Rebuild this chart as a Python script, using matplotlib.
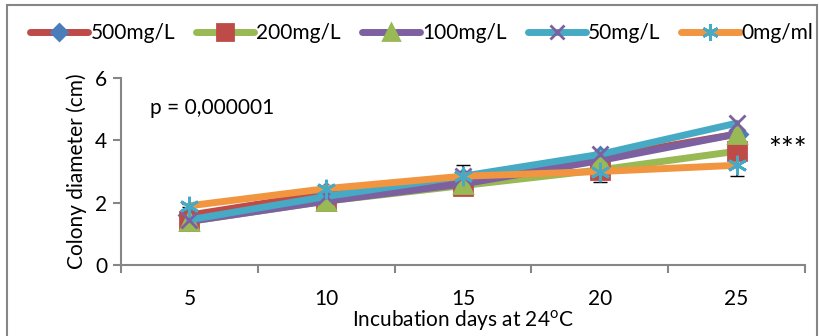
import matplotlib
matplotlib.use("Agg")
import matplotlib.pyplot as plt
from matplotlib.patches import Rectangle

days = ["5", "10", "15", "20", "25"]
series_names = ["500mg/L", "200mg/L", "100mg/L", "50mg/L", "0mg/ml"]
v500 = [1.6, 2.3, 2.75, 3.45, 4.2]
v200 = [1.4, 2.05, 2.55, 3.05, 3.65]
v100 = [1.4, 2.05, 2.6, 3.35, 4.2]
v50 = [1.45, 2.2, 2.85, 3.55, 4.55]
v0 = [1.9, 2.45, 2.85, 3.0, 3.2]
err0 = [0.05, 0.05, 0.35, 0.35, 0.35]
err500 = [0.05, 0.05, 0.05, 0.05, 0.05]

plt.rcParams['font.family'] = ['Lato', 'DejaVu Sans']

fig = plt.figure(figsize=(8.19, 3.36), dpi=100)
ax = fig.add_axes([121/819, 1-265/336, (805-121)/819, (265-78)/336])

line_colors = ["#BE4B48", "#98B954", "#7D60A0", "#46AAC5", "#F29541"]
mk = ["D", "s", "^", "x", (6, 2, 0)]
mk_colors = ["#4A7EBB", "#BE4B48", "#98B954", "#7D60A0", "#46AAC5"]
mk_sizes = [10, 13, 13, 12, 14]
data = [v500, v200, v100, v50, v0]
x = list(range(len(days)))

handles = []
for i, (vals, name) in enumerate(zip(data, series_names)):
    h, = ax.plot(x, vals, color=line_colors[i], lw=5, marker=mk[i], ms=mk_sizes[i],
                 mfc=mk_colors[i], mec=mk_colors[i], mew=2, label=name, zorder=3+i,
                 solid_capstyle='round')
    handles.append(h)

ax.errorbar(x, v0, yerr=err0, fmt='none', ecolor='black', elinewidth=1.2, capsize=5, zorder=2)
ax.errorbar(x, v500, yerr=err500, fmt='none', ecolor='black', elinewidth=1.2, capsize=3, zorder=2)

fs = 15
ax.set_xlim(-0.5, 4.5)
ax.set_ylim(0, 6)
ax.set_yticks([0, 2, 4, 6])
ax.set_xticks([-0.5, 0.5, 1.5, 2.5, 3.5, 4.5])
ax.set_xticklabels([])
ax.set_xticks(x, minor=True)
ax.set_xticklabels(days, minor=True)
ax.tick_params(axis='x', which='minor', length=0, pad=17, labelsize=fs)
ax.tick_params(axis='x', which='major', length=6, direction='out', color='#868686', width=1.5)
ax.tick_params(axis='y', length=6, direction='out', color='#868686', width=1.5, labelsize=fs, pad=4)
for s in ['top', 'right']:
    ax.spines[s].set_visible(False)
for s in ['left', 'bottom']:
    ax.spines[s].set_color('#868686')
    ax.spines[s].set_linewidth(1.5)

ax.set_ylabel("Colony diameter (cm)", fontsize=fs, labelpad=6)
fig.text((121+805)/2/819, 1-321/336, "Incubation days at 24$^{\\mathregular{o}}$C", fontsize=fs,
         ha='center', va='center')

fig.text(150/819, 1-108/336, "p = 0,000001", fontsize=fs, va='center', ha='left')
fig.text(768/819, 1-150/336, "***", fontsize=22, va='center', ha='left')

fig.legend(handles=handles, loc='center', bbox_to_anchor=(0.515, 1-33/336), ncol=5, frameon=False,
           fontsize=fs, handlelength=2.8, handletextpad=0.1, columnspacing=1.0, borderaxespad=0,
           markerscale=0.85)

fig.patches.append(Rectangle((0.008, -0.02), 0.99, 1.005, transform=fig.transFigure, fill=False,
                             edgecolor='#868686', lw=1.5))

fig.savefig("out.png", dpi=100)
